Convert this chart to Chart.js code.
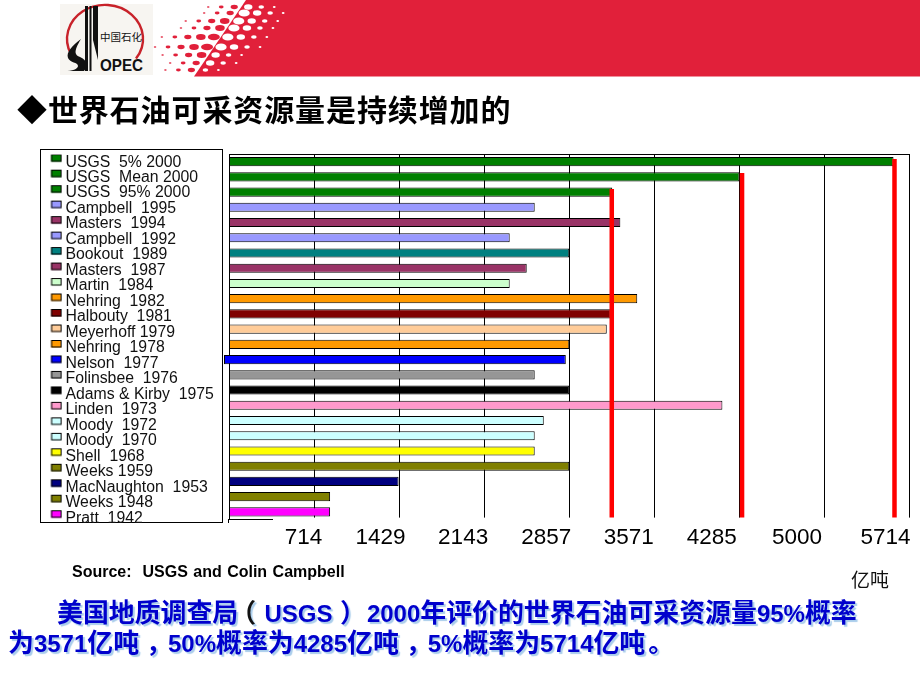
<!DOCTYPE html>
<html lang="zh"><head><meta charset="utf-8">
<style>
html,body{margin:0;padding:0;background:#fff;width:920px;height:690px;overflow:hidden}
#wrap{position:relative;width:920px;height:690px}
canvas#c{position:absolute;left:0;top:0;width:920px;height:690px}
svg#deco{position:absolute;left:0;top:0}
.t{position:absolute;white-space:pre;line-height:1}
#title{left:17px;top:86px;font:700 30px "Noto Sans CJK SC";letter-spacing:.9px;color:#000}
#src{left:72px;top:563px;font:700 16px "Liberation Sans";color:#000;word-spacing:1px}
#unit{left:851px;top:565px;font:400 19px "Noto Sans CJK SC";color:#111}
.note{font:700 25.9px "Noto Sans CJK SC";color:#0000CC;text-shadow:2px 2px 1px #A9CDEB}
.note b{font:700 24px "Liberation Sans"}
#n1{left:57px;top:592px}
#n2{left:8px;top:622px}
</style></head><body>
<div id="wrap">
<svg id="deco" width="920" height="80" xmlns="http://www.w3.org/2000/svg"></svg>
<canvas id="c" width="920" height="690"></canvas>
<div class="t" id="title">◆世界石油可采资源量是持续增加的</div>
<div class="t" id="src">Source:  USGS and Colin Campbell</div>
<div class="t" id="unit">亿吨</div>
<div class="t note" id="n1">美国地质调查局<span style="color:#111;margin:0 8.4px 0 -8px">（</span><b>USGS</b><span style="margin:0 1px 0 7.5px">）</span><b>2000</b>年评价的世界石油可采资源量<b>95%</b>概率</div>
<div class="t note" id="n2">为<b>3571</b>亿吨<span style="margin:0 -4px 0 7px">，</span><b>50%</b>概率为<b>4285</b>亿吨<span style="margin:0 -4px 0 7px">，</span><b>5%</b>概率为<b>5714</b>亿吨<span style="margin-left:3px">。</span></div>
</div>
<script src="https://cdn.jsdelivr.net/npm/chart.js@4/dist/chart.umd.min.js"></script>
<script>
const categories=["USGS  5% 2000","USGS  Mean 2000","USGS  95% 2000","Campbell  1995","Masters  1994","Campbell  1992","Bookout  1989","Masters  1987","Martin  1984","Nehring  1982","Halbouty  1981","Meyerhoff 1979","Nehring  1978","Nelson  1977","Folinsbee  1976","Adams & Kirby  1975","Linden  1973","Moody  1972","Moody  1970","Shell  1968","Weeks 1959","MacNaughton  1953","Weeks 1948","Pratt  1942"];
const resourceValues=[5580,4286,3218,2567,3286,2357,2857,2500,2357,3428,3206,3172,2857,2828,2567,2857,4143,2643,2567,2567,2857,1424,849,849];
const barStarts=[0,0,0,0,0,0,0,0,0,0,0,0,0,-42,0,0,0,0,0,0,0,0,0,0];
const barColors=["#008000","#008000","#008000","#9999FF","#993366","#9999FF","#008080","#993366","#CCFFCC","#FF9900","#800000","#FFCC99","#FF9900","#0000FF","#969696","#000000","#FF99CC","#CCFFFF","#CCFFFF","#FFFF00","#808000","#000080","#808000","#FF00FF"];
const gridStep=714.25;
const axisMax=5714;
const tickLabels=["714","1429","2143","2857","3571","4285","5000","5714"];
const tickLabelAnchors=[626,1273,1966,2664,3357,4054,4769,5512];
const probabilityValues=[3214,4308,5588];
const probabilityTops=[2.3,1.25,0.33];
const probabilityBottom=23.87;

/* page decoration: banner and logo */
(function(){
  let s='<rect x="60" y="4" width="93" height="71" fill="#F7F5F1"/>';
  s+='<polygon points="246,0 920,0 920,76.5 194,76.5" fill="#E1203A"/>';
  const rows=[[7,3,3],[13,3,4],[21,4,4],[28,4,4],[37,5,4],[47,5,4],[55,4,3],[63,3,3],[70,3,2]];
  rows.forEach(function(r){
    const y=r[0],e=246-y*0.68;
    for(let i=0;i<r[1];i++){
      const rx=Math.max(1.3,(r[1]-i)*1.2);
      s+='<ellipse cx="'+(e-7-i*13)+'" cy="'+y+'" rx="'+rx+'" ry="'+Math.min(rx*0.6,3.2)+'" fill="#E1203A"/>';
    }
    for(let i=0;i<r[2];i++){
      const rx=Math.max(1.3,(r[2]-i)*1.4);
      s+='<ellipse cx="'+(e+7+i*13)+'" cy="'+y+'" rx="'+rx+'" ry="'+Math.min(rx*0.65,3.6)+'" fill="#fff"/>';
    }
  });
  s+='<path d="M71 54 A38 34 0 1 1 136 58.6" fill="none" stroke="#C8222A" stroke-width="2.4"/>';
  s+='<path d="M81 39 C72 46 66 52 68 58 C70 63 78 62 78 66 C78 69 72 71 65 71 L84 71 C89 66 87 60 80 57 C75 55 73 52 81 39Z" fill="#111"/>';
  s+='<rect x="85" y="6" width="3" height="65" fill="#111"/><rect x="89.5" y="6" width="2" height="65" fill="#111"/>';
  s+='<polygon points="93,6 98,6 98,60 93,40" fill="#111"/>';
  s+='<text x="100" y="41" font-family="Noto Sans CJK SC" font-size="10.5" textLength="42" lengthAdjust="spacingAndGlyphs" fill="#111">中国石化</text>';
  s+='<text x="100" y="71" font-family="Liberation Sans" font-weight="700" font-size="17" textLength="43" lengthAdjust="spacingAndGlyphs" fill="#111">OPEC</text>';
  document.getElementById('deco').innerHTML=s;
})();

/* legend swatches: images so that swatch sits where the reference has it */
function swatch(color){
  const cv=document.createElement('canvas');cv.width=24;cv.height=24;
  const g=cv.getContext('2d');
  g.fillStyle=color;g.fillRect(9.5,4,10.5,7.5);
  g.strokeStyle='#000';g.lineWidth=1;g.strokeRect(10,4.5,9.5,6.5);
  return cv;
}
const swatches=barColors.map(swatch);

const frame={
  id:'frame',
  afterLayout(chart){
    if(chart.legend){chart.legend.left=49.9;chart.legend.top=154.6;}
  },
  beforeDraw(chart){
    const g=chart.ctx;g.save();
    g.strokeStyle='#000';g.lineWidth=1;
    g.strokeRect(40.5,149.5,182,373);
    g.restore();
  },
  beforeDatasetsDraw(chart){
    const g=chart.ctx,a=chart.chartArea;g.save();
    g.fillStyle='#fff';g.fillRect(273,517.6,650,4);
    g.strokeStyle='#000';g.lineWidth=1;
    g.beginPath();
    g.moveTo(a.left,154.5);g.lineTo(a.right+.5,154.5);
    g.moveTo(a.left,519.5);g.lineTo(273,519.5);
    g.moveTo(228.5,519);g.lineTo(228.5,523);
    g.stroke();g.restore();
  },
  afterDraw(chart){
    const g=chart.ctx;g.save();
    g.fillStyle='#fff';g.fillRect(41,523,181,12);
    g.restore();
  }
};

const chart=new Chart(document.getElementById('c'),{
  data:{
    labels:categories,
    datasets:[
      {type:'bar',indexAxis:'y',xAxisID:'x',yAxisID:'y',order:2,clip:false,
       data:resourceValues.map((v,i)=>[barStarts[i],v]),
       backgroundColor:barColors,borderColor:'#000',borderWidth:1,borderSkipped:false,
       categoryPercentage:1,barPercentage:0.6}
    ].concat(probabilityValues.map((v,i)=>({
       type:'scatter',xAxisID:'x',yAxisID:'yr',order:1,showLine:true,
       data:[{x:v,y:probabilityTops[i]},{x:v,y:probabilityBottom}],
       borderColor:'#FF0000',backgroundColor:'#FF0000',borderWidth:4.5,pointRadius:0,clip:false
    })))
  },
  options:{
    responsive:false,animation:false,devicePixelRatio:1,
    layout:{padding:{left:0,right:10.5,top:154,bottom:130.5}},
    plugins:{
      tooltip:{enabled:false},title:{display:false},
      legend:{
        display:true,position:'left',align:'start',
        labels:{
          font:{family:'"Liberation Sans"',size:15.8},color:'#111',
          usePointStyle:true,pointStyleWidth:8,padding:-0.32,boxHeight:14,
          generateLabels(){
            return categories.map((c,i)=>({text:c,pointStyle:swatches[i],fontColor:'#111',hidden:false,lineWidth:0,index:i}));
          }
        }
      }
    },
    scales:{
      x:{type:'linear',position:'bottom',min:0,max:axisMax,
         ticks:{display:false,stepSize:gridStep,count:9},
         afterBuildTicks(s){s.ticks=tickLabels.map((_,i)=>({value:gridStep*(i+1)}));},
         afterFit(s){s.height=0;},
         grid:{color:'#000',lineWidth:1,drawTicks:false},border:{display:false}},
      x2:{type:'linear',position:'bottom',min:0,max:axisMax,
         afterBuildTicks(s){s.ticks=tickLabelAnchors.map(v=>({value:v}));},
         afterFit(s){s.height=40;},
         ticks:{autoSkip:false,maxRotation:0,padding:5,color:'#000',
                font:{family:'"Liberation Sans"',size:22.5},
                callback(v,i){return tickLabels[i];}},
         grid:{display:false,drawTicks:false},border:{display:false}},
      y:{type:'category',position:'left',offset:true,
         ticks:{display:false},grid:{display:false,drawTicks:false},
         border:{display:true,color:'#000',width:1},
         afterFit(s){s.width=0;}},
      yr:{type:'linear',display:false,position:'left',reverse:true,min:0,max:24}
    }
  },
  plugins:[frame]
});
chart.options.layout.padding.left=229-chart.legend.width;
chart.update('none');
</script>
</body></html>
